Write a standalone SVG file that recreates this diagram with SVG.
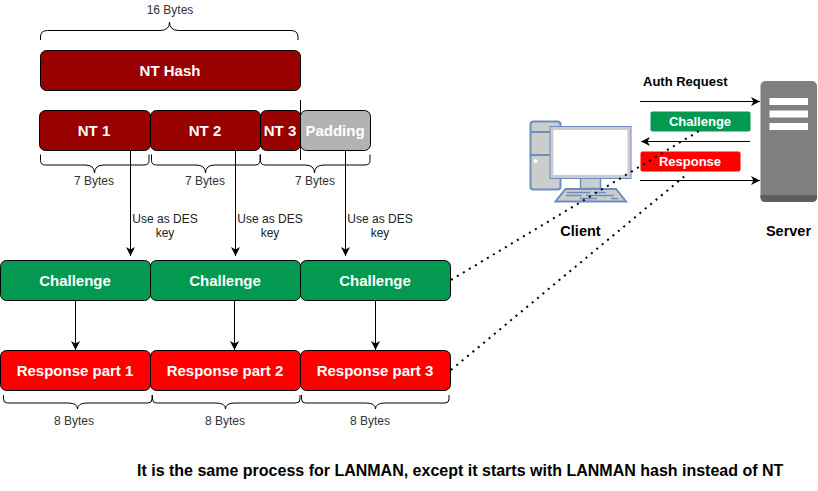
<svg xmlns="http://www.w3.org/2000/svg" width="818" height="491" viewBox="0 0 818 491">
<style>
text{font-family:"Liberation Sans",Arial,sans-serif;}
.box{stroke:#000;stroke-width:1;}
.t{fill:#fff;font-weight:700;font-size:15px;text-anchor:middle;}
.s{fill:#333;font-size:12px;text-anchor:middle;}
.k{fill:#222;font-size:12px;text-anchor:middle;}
.b{fill:#000;font-weight:700;}
.brace{fill:none;stroke:#000;stroke-width:1;}
.line{fill:none;stroke:#000;stroke-width:1;}
.dot{fill:none;stroke:#000;stroke-width:2;stroke-dasharray:2 5;}
.red{fill:#990000;}
.green{fill:#039950;}
.resp{fill:#ff0000;}
.pc{fill:#ccc;stroke:#6c8ebf;stroke-width:2;}
</style>
<defs>
<marker id="arr" markerWidth="10" markerHeight="10" refX="9" refY="5" orient="auto" markerUnits="userSpaceOnUse"><path d="M0 0.500L9 5L0 9.500L2.500 5Z" fill="#000"/></marker>
</defs>
<g id="nt-hash"><rect class="box red" x="40.5" y="50.5" width="260" height="40" rx="6"/><text class="t" x="170" y="76">NT Hash</text></g>
<g id="nt1"><rect class="box red" x="39.5" y="110.5" width="111" height="40" rx="6"/><text class="t" x="94" y="136">NT 1</text></g>
<g id="nt2"><rect class="box red" x="150.5" y="110.5" width="110" height="40" rx="6"/><text class="t" x="205" y="136">NT 2</text></g>
<g id="nt3"><rect class="box red" x="260.5" y="110.5" width="40" height="40" rx="6"/><text class="t" x="280" y="136">NT 3</text></g>
<g id="padding"><rect class="box" fill="#b3b3b3" x="300.5" y="110.5" width="70" height="40" rx="6"/><text class="t" x="335" y="136">Padding</text></g>
<g id="ch1"><rect class="box green" x="0.5" y="260.5" width="150" height="40" rx="6"/><text class="t" x="75" y="286">Challenge</text></g>
<g id="ch2"><rect class="box green" x="150.5" y="260.5" width="150" height="40" rx="6"/><text class="t" x="225" y="286">Challenge</text></g>
<g id="ch3"><rect class="box green" x="300.5" y="260.5" width="150" height="40" rx="6"/><text class="t" x="375" y="286">Challenge</text></g>
<g id="rp1"><rect class="box resp" x="0.5" y="350.5" width="150" height="40" rx="6"/><text class="t" x="75" y="376">Response part 1</text></g>
<g id="rp2"><rect class="box resp" x="150.5" y="350.5" width="150" height="40" rx="6"/><text class="t" x="225" y="376">Response part 2</text></g>
<g id="rp3"><rect class="box resp" x="300.5" y="350.5" width="150" height="40" rx="6"/><text class="t" x="375" y="376">Response part 3</text></g>
<g id="braces">
<path class="brace" d="M40.5 40v-3q0-6.500 7-6.500H160q9.500 0 9.500-8.500q0 8.500 9.500 8.500H291q7 0 7 6.500v3"/>
<path class="brace" d="M40.500 154.500v6q0 4.500 5 4.500H85q9.500 0 9.500 8q0-8 9.500-8H144q5 0 5-4.500v-6"/>
<path class="brace" d="M151.500 154.500v6q0 4.500 5 4.500H196q9.500 0 9.500 8q0-8 9.500-8H255q5 0 5-4.500v-6"/>
<path class="brace" d="M260.500 154.500v6q0 4.500 5 4.500H305q9.500 0 9.500 8q0-8 9.500-8H365q5 0 5-4.500v-6"/>
<path class="brace" d="M3.500 395v4q0 4 4 4H68q9.500 0 9.500 6q0-6 9.500-6H148q4 0 4-4v-4"/>
<path class="brace" d="M152.500 395v4q0 4 4 4H216q9.500 0 9.500 6q0-6 9.500-6H296q4 0 4-4v-4"/>
<path class="brace" d="M301.500 395v4q0 4 4 4H366q9.500 0 9.500 6q0-6 9.500-6H445q4 0 4-4v-4"/>
<text class="s" x="170" y="14">16 Bytes</text>
<text class="s" x="94" y="185">7 Bytes</text>
<text class="s" x="205" y="185">7 Bytes</text>
<text class="s" x="315" y="185">7 Bytes</text>
<text class="s" x="74" y="425">8 Bytes</text>
<text class="s" x="225" y="425">8 Bytes</text>
<text class="s" x="370" y="425">8 Bytes</text>
</g>
<g id="connectors">
<path class="line" d="M300.500 100V160"/>
<path class="line" marker-end="url(#arr)" d="M130.500 150.500V256"/>
<path class="line" marker-end="url(#arr)" d="M235.500 150.500V256"/>
<path class="line" marker-end="url(#arr)" d="M345.500 150.500V256"/>
<path class="line" marker-end="url(#arr)" d="M75.500 300.500V350"/>
<path class="line" marker-end="url(#arr)" d="M234.500 300.500V350"/>
<path class="line" marker-end="url(#arr)" d="M375.500 300.500V350"/>
<path class="line" marker-end="url(#arr)" d="M640 101.500H760"/>
<path class="line" marker-end="url(#arr)" d="M750 141.500H641"/>
<path class="line" marker-end="url(#arr)" d="M640 180.500H760"/>
</g>
<g id="key-labels">
<text class="k" x="165" y="223">Use as DES</text><text class="k" x="165" y="237">key</text>
<text class="k" x="270" y="223">Use as DES</text><text class="k" x="270" y="237">key</text>
<text class="k" x="380" y="223">Use as DES</text><text class="k" x="380" y="237">key</text>
</g>
<g id="client">
<rect class="pc" x="530.500" y="121.500" width="30" height="68" rx="3"/>
<path class="line" style="stroke:#6c8ebf;stroke-width:2" d="M530.500 132H550M530.500 155H550"/>
<circle cx="535.500" cy="161" r="2" fill="#fff"/>
<rect class="pc" x="580.500" y="178" width="20" height="10.500" style="stroke-width:1.500"/>
<rect x="550.500" y="127" width="80" height="51" fill="#fff" stroke="#6c8ebf" stroke-width="2"/>
<rect x="552" y="128.500" width="77" height="48" fill="none" stroke="#ccc" stroke-width="3"/>
<polygon class="pc" points="565.500,189 616,189 626,201.500 555.500,201.500"/>
<path fill="none" stroke="#6c8ebf" stroke-width="1.500" d="M567 192.500H590M594 192.500H606M566 195.500H582M586 195.500H614M580 198.500H597M611 198.500H618"/>
<text class="b" x="580.500" y="236" font-size="14.500" text-anchor="middle">Client</text>
</g>
<g id="server">
<rect x="760.500" y="81" width="56.500" height="121" rx="5" fill="#808080"/>
<path d="M760.500 195H817V197q0 5-5 5H765.500q-5 0-5-5Z" fill="#5e5e5e"/>
<rect x="769.500" y="98" width="38.500" height="7" fill="#fff"/>
<rect x="769.500" y="110.500" width="38.500" height="7" fill="#fff"/>
<rect x="769.500" y="123" width="38.500" height="7" fill="#fff"/>
<text class="b" x="788.500" y="236" font-size="14.500" text-anchor="middle">Server</text>
</g>
<g id="auth-request"><text class="b" x="643" y="86" font-size="13">Auth Request</text></g>
<g id="challenge-msg"><rect x="650.500" y="111.500" width="100" height="20" rx="2" fill="#039950"/><text class="t" x="700" y="126" style="font-size:13px">Challenge</text></g>
<g id="response-msg"><rect x="640.500" y="151.500" width="100" height="20" rx="2" fill="#ff0000"/><text class="t" x="690" y="166" style="font-size:13px">Response</text></g>
<g id="dotted-connectors">
<path class="dot" d="M451 280L699 131"/>
<path class="dot" d="M451 370L686 175"/>
</g>
<text class="b" x="137" y="476" font-size="16">It is the same process for LANMAN, except it starts with LANMAN hash instead of NT</text>
</svg>
